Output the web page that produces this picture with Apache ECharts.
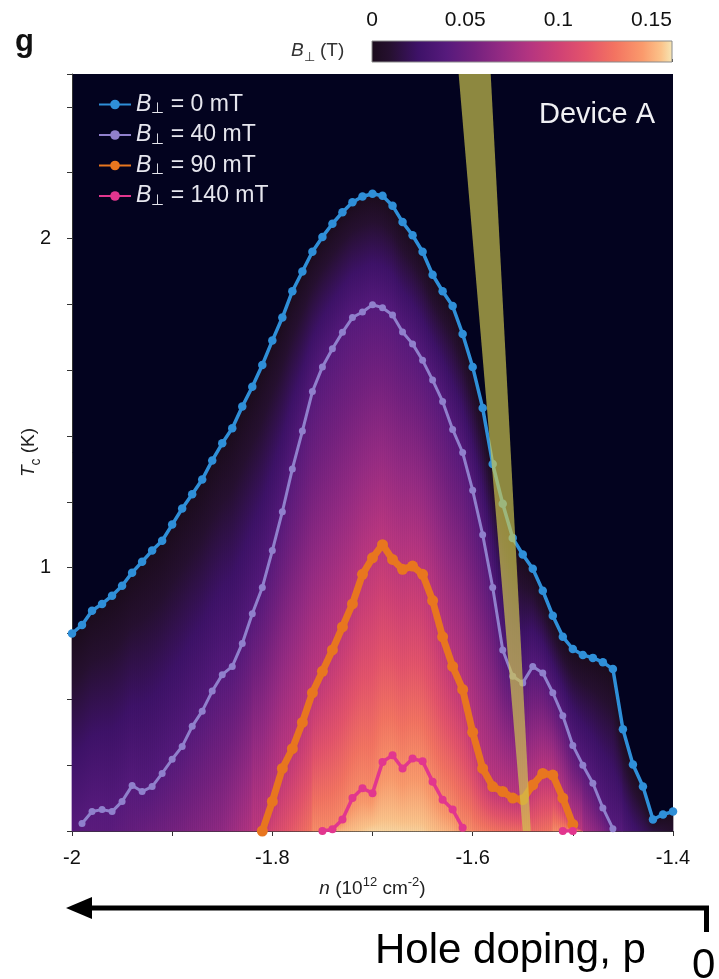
<!DOCTYPE html>
<html>
<head>
<meta charset="utf-8">
<script src="https://cdn.jsdelivr.net/npm/echarts@6/dist/echarts.min.js"></script>
<style>
  html, body { margin: 0; padding: 0; background: #ffffff; }
  #chart { width: 719px; height: 979px; }
</style>
</head>
<body>
<div id="chart"></div>
<script>
// Carrier density n (10^12 cm^-2) at which Tc was sampled
const densities = [
  -2.00, -1.99, -1.98, -1.97, -1.96, -1.95, -1.94, -1.93, -1.92, -1.91,
  -1.90, -1.89, -1.88, -1.87, -1.86, -1.85, -1.84, -1.83, -1.82, -1.81,
  -1.80, -1.79, -1.78, -1.77, -1.76, -1.75, -1.74, -1.73, -1.72, -1.71,
  -1.70, -1.69, -1.68, -1.67, -1.66, -1.65, -1.64, -1.63, -1.62, -1.61,
  -1.60, -1.59, -1.58, -1.57, -1.56, -1.55, -1.54, -1.53, -1.52, -1.51,
  -1.50, -1.49, -1.48, -1.47, -1.46, -1.45, -1.44, -1.43, -1.42, -1.41,
  -1.40
];

// Tc (K) at each density; null = below the plotted temperature range
const tc0mT = [
  0.800, 0.826, 0.869, 0.890, 0.915, 0.945, 0.985, 1.018, 1.052, 1.082,
  1.131, 1.180, 1.223, 1.268, 1.326, 1.378, 1.424, 1.490, 1.550, 1.616,
  1.690, 1.760, 1.840, 1.900, 1.960, 2.005, 2.045, 2.080, 2.110, 2.128,
  2.136, 2.130, 2.100, 2.050, 2.010, 1.960, 1.890, 1.840, 1.795, 1.710,
  1.610, 1.485, 1.315, 1.194, 1.090, 1.040, 0.997, 0.930, 0.854, 0.790,
  0.753, 0.735, 0.726, 0.713, 0.692, 0.509, 0.402, 0.335, 0.235, 0.250,
  0.259
];
const tc40mT = [
  null,  0.223, 0.259, 0.265, 0.259, 0.290, 0.338, 0.320, 0.335, 0.375,
  0.418, 0.457, 0.518, 0.564, 0.625, 0.675, 0.700, 0.770, 0.860, 0.940,
  1.052, 1.170, 1.300, 1.415, 1.535, 1.610, 1.665, 1.715, 1.760, 1.777,
  1.799, 1.790, 1.768, 1.716, 1.680, 1.630, 1.570, 1.505, 1.420, 1.350,
  1.235, 1.100, 0.940, 0.750, 0.670, 0.650, 0.700, 0.680, 0.620, 0.550,
  0.460, 0.400, 0.345, 0.270, 0.207, null,  null,  null,  null,  null,
  null
];
const tc90mT = [
  null,  null,  null,  null,  null,  null,  null,  null,  null,  null,
  null,  null,  null,  null,  null,  null,  null,  null,  null,  0.200,
  0.290, 0.390, 0.450, 0.530, 0.620, 0.685, 0.750, 0.820, 0.890, 0.980,
  1.030, 1.070, 1.025, 0.995, 1.005, 0.980, 0.900, 0.790, 0.700, 0.630,
  0.500, 0.390, 0.335, 0.320, 0.300, 0.295, 0.340, 0.375, 0.370, 0.300,
  0.220, null,  null,  null,  null,  null,  null,  null,  null,  null,
  null
];
const tc140mT = [
  null,  null,  null,  null,  null,  null,  null,  null,  null,  null,
  null,  null,  null,  null,  null,  null,  null,  null,  null,  null,
  null,  null,  null,  null,  null,  0.200, 0.205, 0.235, 0.300, 0.330,
  0.315, 0.410, 0.430, 0.390, 0.420, 0.412, 0.350, 0.295, 0.265, 0.210,
  null,  null,  null,  null,  null,  null,  null,  null,  null,  0.200,
  0.200, null,  null,  null,  null,  null,  null,  null,  null,  null,
  null
];

// Perpendicular field (T) of each Tc curve
const fieldLevels = [0, 0.04, 0.09, 0.14];
const seriesNames = ['0', '40', '90', '140'];

// Critical field along the lowest measured temperature (T = 0.2 K)
const floorDensity = [-2.00, -1.95, -1.90, -1.85, -1.82, -1.80, -1.78, -1.76, -1.74, -1.70, -1.65, -1.62, -1.60, -1.57, -1.54, -1.51, -1.50, -1.49, -1.47, -1.46, -1.44, -1.42, -1.40];
const floorField   = [0.034, 0.045, 0.055, 0.068, 0.085, 0.105, 0.118, 0.132, 0.150, 0.158, 0.157, 0.150, 0.138, 0.128, 0.125, 0.135, 0.120, 0.080, 0.060, 0.045, 0.028, 0.015, 0.008];

// Axis ticks and labels
const xLabelled = ['-2', '-1.8', '-1.6', '-1.4'];
const yLabelled = ['1', '2'];
const colorbarTicks = [0, 0.05, 0.1, 0.15];

// Colour scale for B⊥ (T)
const fieldPalette = [
  [0.000, '#1b0c1c'], [0.010, '#261030'], [0.025, '#3e1268'], [0.040, '#561a7c'],
  [0.055, '#74217f'], [0.070, '#952b83'], [0.085, '#b53580'], [0.100, '#cf4175'],
  [0.115, '#e4546b'], [0.130, '#f37361'], [0.145, '#fa9a6c'], [0.155, '#fbc38a'],
  [0.161, '#f6e7b6']
];

const T_FLOOR = 0.2, T_CEIL = 2.5, B_MAX = 0.161;
const lineColors = ['#2f8fd8', '#9080cc', '#e8761f', '#e2368e'];
const lineWidths = [3.5, 3, 7, 3.5];
const symbolSizes = [8.5, 7, 11, 8];
const curves = [tc0mT, tc40mT, tc90mT, tc140mT];

// Tilted guide band (n at top and bottom of the temperature range)
const guideTop = [-1.614, -1.582];
const guideBottom = [-1.550, -1.542];

const FONT = '"Liberation Sans", Arial, Helvetica, sans-serif';
const SUBSTEPS = 5;

function hexToRgb(h) {
  return [parseInt(h.slice(1, 3), 16), parseInt(h.slice(3, 5), 16), parseInt(h.slice(5, 7), 16)];
}
function colorAt(b) {
  if (b <= fieldPalette[0][0]) return fieldPalette[0][1];
  for (let k = 1; k < fieldPalette.length; k++) {
    const [b1, c1] = fieldPalette[k];
    if (b <= b1) {
      const [b0, c0] = fieldPalette[k - 1];
      const f = (b - b0) / (b1 - b0);
      const a = hexToRgb(c0), c = hexToRgb(c1);
      return 'rgb(' + a.map((v, j) => Math.round(v + (c[j] - v) * f)).join(',') + ')';
    }
  }
  return fieldPalette[fieldPalette.length - 1][1];
}
function gradientStops(b0, b1) {
  const stops = [{ offset: 0, color: colorAt(b0) }];
  fieldPalette.forEach(([b, c]) => {
    if (b > b0 && b < b1) stops.push({ offset: (b - b0) / (b1 - b0), color: c });
  });
  stops.push({ offset: 1, color: colorAt(b1) });
  return stops;
}
function floorAt(n) {
  for (let k = 1; k < floorDensity.length; k++) {
    if (n <= floorDensity[k]) {
      const f = (n - floorDensity[k - 1]) / (floorDensity[k] - floorDensity[k - 1]);
      return floorField[k - 1] + (floorField[k] - floorField[k - 1]) * f;
    }
  }
  return floorField[floorField.length - 1];
}

// One vertical strip per density step, filled band by band between the Tc curves.
// Each strip is cut into thin slices along its straight edges so the shading follows the curves.
function renderFieldStrip(params, api) {
  const i = api.value(2);
  const nL = densities[i], nR = densities[i + 1];
  const layers = [];
  curves.forEach((c, k) => {
    const a = c[i], b = c[i + 1];
    if (a == null && b == null) return;
    layers.push({ B: fieldLevels[k], tL: a == null ? T_FLOOR : a, tR: b == null ? T_FLOOR : b });
  });
  const children = [];
  for (let s = 0; s < SUBSTEPS; s++) {
    const f0 = s / SUBSTEPS, f1 = (s + 1) / SUBSTEPS;
    const xa = nL + (nR - nL) * f0, xb = nL + (nR - nL) * f1;
    const rows = layers.map(L => ({ B: L.B, ta: L.tL + (L.tR - L.tL) * f0, tb: L.tL + (L.tR - L.tL) * f1 }));
    const last = rows[rows.length - 1];
    rows.push({ B: Math.max(last.B + 0.002, floorAt((xa + xb) / 2)), ta: T_FLOOR, tb: T_FLOOR });
    for (let k = 0; k < rows.length - 1; k++) {
      const up = rows[k], lo = rows[k + 1];
      const p1 = api.coord([xa, up.ta]), p2 = api.coord([xb, up.tb]);
      const p3 = api.coord([xb, lo.tb]), p4 = api.coord([xa, lo.ta]);
      if (p4[1] - p1[1] < 0.2 && p3[1] - p2[1] < 0.2) continue;
      const yTop = (p1[1] + p2[1]) / 2, yBot = (p3[1] + p4[1]) / 2;
      const fill = new echarts.graphic.LinearGradient(0, yTop, 0, Math.max(yBot, yTop + 0.5), gradientStops(up.B, lo.B), true);
      children.push({
        type: 'polygon',
        shape: { points: [p1, p2, p3, p4] },
        style: { fill: fill, stroke: fill, lineWidth: 0.7 }
      });
    }
  }
  return { type: 'group', children: children };
}

const chart = echarts.init(document.getElementById('chart'), null, { renderer: 'canvas' });

const lineSeries = curves.map((vals, k) => ({
  name: seriesNames[k],
  type: 'line',
  xAxisIndex: 0, yAxisIndex: 0,
  data: densities.map((n, i) => [n, vals[i]]),
  connectNulls: false,
  symbol: 'circle',
  symbolSize: symbolSizes[k],
  showAllSymbol: true,
  itemStyle: { color: lineColors[k] },
  lineStyle: { color: lineColors[k], width: lineWidths[k] },
  z: 5 + k,
  silent: true
}));

const option = {
  animation: false,
  textStyle: { fontFamily: FONT },
  grid: [
    { left: 72, top: 74, width: 601, height: 757, show: true, backgroundColor: '#03031f', borderWidth: 0, containLabel: false, outerBoundsMode: 'none' },
    { left: 372, top: 41, width: 300, height: 21, show: false, containLabel: false, outerBoundsMode: 'none' }
  ],
  xAxis: [
    {
      type: 'value', gridIndex: 0, min: -2, max: -1.4, interval: 0.1,
      axisLine: { show: true, lineStyle: { color: '#333', width: 1 } },
      axisTick: { show: true, length: 5, lineStyle: { color: '#333' } },
      splitLine: { show: false },
      axisLabel: {
        color: '#111', fontSize: 20, margin: 17, fontFamily: FONT,
        formatter: v => {
          const s = String(Math.round(v * 10) / 10);
          return xLabelled.indexOf(s) >= 0 ? s : '';
        }
      },
      name: '{i|n} (10{p|12} cm{p|-2})',
      nameLocation: 'middle', nameGap: 45,
      nameTextStyle: {
        color: '#222', fontSize: 19, fontFamily: FONT,
        rich: {
          i: { fontStyle: 'italic', fontSize: 19, color: '#222', fontFamily: FONT },
          p: { fontSize: 13, color: '#222', verticalAlign: 'top', lineHeight: 26, fontFamily: FONT }
        }
      }
    },
    {
      type: 'value', gridIndex: 1, min: 0, max: B_MAX, interval: 0.05, position: 'top',
      axisLine: { show: false }, axisTick: { show: false }, splitLine: { show: false },
      axisLabel: {
        color: '#111', fontSize: 21, margin: 10, fontFamily: FONT,
        formatter: v => {
          const r = Math.round(v * 100) / 100;
          return colorbarTicks.indexOf(r) >= 0 ? String(r) : '';
        }
      }
    },
    {
      type: 'value', gridIndex: 1, min: 0, max: B_MAX, interval: 0.01, position: 'bottom',
      axisLine: { show: false }, splitLine: { show: false }, axisLabel: { show: false },
      axisTick: { show: true, inside: true, length: 3, lineStyle: { color: '#3a3a3a' } }
    }
  ],
  yAxis: [
    {
      type: 'value', gridIndex: 0, min: T_FLOOR, max: T_CEIL, interval: 0.2,
      axisLine: { show: true, lineStyle: { color: '#333', width: 1 } },
      axisTick: { show: true, length: 5, lineStyle: { color: '#333' } },
      splitLine: { show: false },
      axisLabel: {
        color: '#111', fontSize: 20, margin: 21, fontFamily: FONT,
        formatter: v => {
          const s = String(Math.round(v * 10) / 10);
          return yLabelled.indexOf(s) >= 0 ? s : '';
        }
      },
      name: '{i|T}{c|c} (K)',
      nameLocation: 'middle', nameGap: 29, nameRotate: 90, nameMoveOverlap: false,
      nameTextStyle: {
        color: '#222', fontSize: 19, fontFamily: FONT,
        rich: {
          i: { fontStyle: 'italic', fontSize: 19, color: '#222', fontFamily: FONT },
          c: { fontSize: 14, color: '#222', verticalAlign: 'bottom', lineHeight: 28, fontFamily: FONT }
        }
      }
    },
    { type: 'value', gridIndex: 1, min: 0, max: 1, show: false }
  ],
  legend: {
    data: seriesNames,
    orient: 'vertical', left: 93, top: 88,
    itemWidth: 32, itemHeight: 12, itemGap: 7,
    formatter: name => '{b|B}{s|⊥}{t| = ' + name + ' mT}',
    textStyle: {
      color: '#e6e6ee', fontSize: 23, fontFamily: FONT,
      rich: {
        b: { fontStyle: 'italic', fontSize: 23, color: '#e6e6ee', lineHeight: 22, fontFamily: FONT },
        s: { fontSize: 15, color: '#e6e6ee', verticalAlign: 'bottom', lineHeight: 24, fontFamily: FONT },
        t: { fontSize: 23, color: '#e6e6ee', lineHeight: 22, fontFamily: FONT }
      }
    }
  },
  series: [
    {
      type: 'custom', name: 'field', xAxisIndex: 0, yAxisIndex: 0, z: 1, silent: true,
      data: densities.slice(0, -1).map((n, i) => [n, densities[i + 1], i]),
      encode: { x: [0, 1] },
      renderItem: renderFieldStrip
    },
    ...lineSeries,
    {
      type: 'custom', name: 'guide', xAxisIndex: 0, yAxisIndex: 0, z: 20, silent: true,
      data: [[guideTop[0], guideBottom[1]]],
      encode: { x: [0, 1] },
      renderItem: (params, api) => ({
        type: 'polygon',
        shape: {
          points: [
            api.coord([guideTop[0], T_CEIL]), api.coord([guideTop[1], T_CEIL]),
            api.coord([guideBottom[1], T_FLOOR]), api.coord([guideBottom[0], T_FLOOR])
          ]
        },
        style: { fill: 'rgba(208,200,80,0.68)' }
      })
    },
    {
      type: 'custom', name: 'colorbar', xAxisIndex: 1, yAxisIndex: 1, z: 2, silent: true,
      data: [[0, B_MAX]],
      encode: { x: [0, 1] },
      renderItem: (params, api) => {
        const p0 = api.coord([0, 1]), p1 = api.coord([B_MAX, 0]);
        return {
          type: 'rect',
          shape: { x: p0[0], y: p0[1], width: p1[0] - p0[0], height: p1[1] - p0[1] },
          style: {
            fill: new echarts.graphic.LinearGradient(0, 0, 1, 0,
              fieldPalette.map(([b, c]) => ({ offset: b / B_MAX, color: c }))),
            stroke: '#8a8a8a', lineWidth: 1
          }
        };
      }
    }
  ],
  graphic: [
    { type: 'text', left: 15, top: 27, style: { text: 'g', font: 'bold 31px ' + FONT, fill: '#111' } },
    {
      type: 'text', left: 291, top: 41,
      style: {
        text: '{b|B}{s|⊥} (T)', fill: '#333', font: '19px ' + FONT,
        rich: {
          b: { fontStyle: 'italic', fontSize: 19, fill: '#333', lineHeight: 20 },
          s: { fontSize: 13, fill: '#333', verticalAlign: 'bottom', lineHeight: 26 },
          t: { fontSize: 19, fill: '#333' }
        }
      }
    },
    { type: 'text', left: 539, top: 100, z: 30, style: { text: 'Device A', font: '29px ' + FONT, fill: '#f0f0f4' } },
    { type: 'polygon', shape: { points: [[66, 908], [92, 897], [92, 919]] }, style: { fill: '#000' } },
    { type: 'line', shape: { x1: 90, y1: 908, x2: 709, y2: 908 }, style: { stroke: '#000', lineWidth: 5 } },
    { type: 'line', shape: { x1: 706.5, y1: 906, x2: 706.5, y2: 932 }, style: { stroke: '#000', lineWidth: 5 } },
    { type: 'text', left: 375, top: 930, style: { text: 'Hole doping, p', font: '42px ' + FONT, fill: '#000' } },
    { type: 'text', left: 692, top: 945, style: { text: '0', font: '42px ' + FONT, fill: '#000' } }
  ]
};

chart.setOption(option);
</script>
</body>
</html>
